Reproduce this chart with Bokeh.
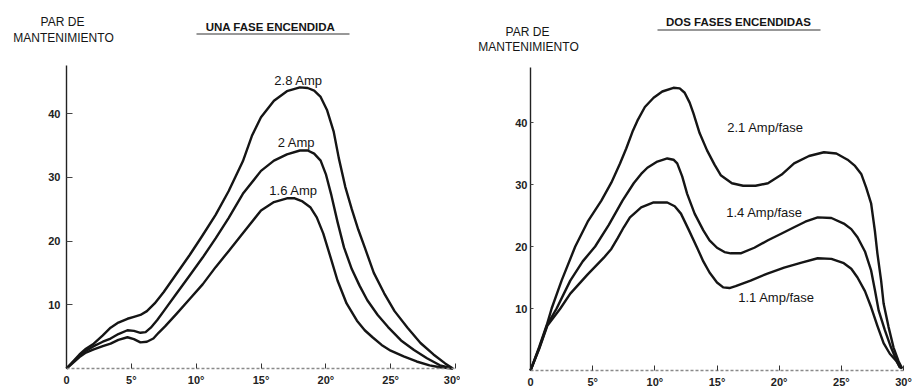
from bokeh.plotting import figure
from bokeh.models import Label, FixedTicker
from bokeh.layouts import row
from bokeh.embed import file_html
from bokeh.resources import INLINE

# ---------------- data ----------------
x_ticks = [0, 5, 10, 15, 20, 25, 30]
x_tick_labels = ["0", "5°", "10°", "15°", "20°", "25°", "30°"]
y_ticks = [10, 20, 30, 40]

# Left chart: UNA FASE ENCENDIDA (x = degrees, y = holding torque)
a28_x = [0, 0.5, 1.0, 1.5, 2.1, 2.8, 3.4, 4.0, 4.7, 5.2, 5.7, 6.2, 6.8, 7.5, 8.5, 9.5, 10.5, 11.5, 12.5, 13.6, 14.3, 15.0, 16.0, 17.0, 18.0, 18.6, 19.1, 19.6, 20.1, 20.6, 21.0, 21.5, 22.0, 22.5, 23.0, 23.7, 24.5, 25.3, 26.3, 27.3, 28.3, 29.2, 29.8]
a28_y = [0, 1.1, 2.2, 3.1, 3.9, 5.2, 6.4, 7.2, 7.8, 8.1, 8.4, 9.0, 10.2, 12.0, 14.9, 17.8, 20.9, 24.1, 27.8, 32.5, 36.5, 39.4, 42.0, 43.5, 44.1, 44.0, 43.6, 42.6, 40.5, 37.2, 33.0, 28.5, 25.0, 21.8, 19.0, 15.0, 11.8, 9.0, 6.4, 4.0, 2.2, 0.8, 0]
a20_x = [0, 0.5, 1.0, 1.5, 2.1, 2.8, 3.4, 4.0, 4.7, 5.2, 5.7, 6.1, 6.5, 7.0, 7.5, 8.5, 9.5, 10.5, 11.5, 12.5, 13.6, 15.0, 16.0, 17.0, 18.0, 18.6, 19.1, 19.6, 20.0, 20.4, 20.9, 21.4, 22.0, 22.6, 23.2, 24.0, 24.8, 25.8, 26.8, 27.8, 28.8, 29.8]
a20_y = [0, 1.0, 2.0, 2.8, 3.5, 4.2, 4.7, 5.4, 6.0, 5.9, 5.6, 5.7, 6.4, 7.6, 9.0, 11.8, 14.6, 17.4, 20.4, 23.6, 27.4, 31.0, 32.6, 33.6, 34.2, 34.2, 33.7, 32.6, 30.5, 27.4, 23.0, 19.0, 15.6, 13.0, 10.7, 8.4, 6.5, 4.4, 2.9, 1.6, 0.5, 0]
a16_x = [0, 0.5, 1.0, 1.5, 2.1, 2.8, 3.4, 4.0, 4.7, 5.2, 5.7, 6.2, 6.7, 7.1, 7.6, 8.5, 9.5, 10.5, 11.5, 12.5, 13.6, 15.0, 16.0, 17.0, 17.6, 18.2, 18.8, 19.3, 19.8, 20.4, 20.9, 21.6, 22.4, 23.0, 23.6, 24.3, 25.0, 26.0, 27.0, 28.0, 28.8, 29.8]
a16_y = [0, 0.9, 1.8, 2.5, 3.0, 3.5, 3.9, 4.5, 4.9, 4.6, 4.1, 4.2, 4.7, 5.6, 6.6, 8.6, 10.9, 13.2, 15.9, 18.4, 21.2, 24.8, 26.1, 26.7, 26.7, 26.2, 25.3, 23.7, 21.2, 17.2, 13.8, 10.2, 7.5, 6.0, 4.9, 3.7, 2.8, 1.9, 1.1, 0.5, 0.2, 0]

# Right chart: DOS FASES ENCENDIDAS
b21_x = [0, 0.7, 1.35, 1.7, 2.5, 3.6, 4.6, 5.7, 6.5, 7.2, 7.7, 8.2, 8.6, 9.2, 9.9, 10.6, 11.5, 12.0, 12.4, 12.8, 13.1, 13.6, 14.2, 14.8, 15.3, 16.2, 17.1, 18.1, 19.1, 20.2, 21.2, 22.4, 23.6, 24.6, 25.5, 26.1, 26.6, 27.0, 27.4, 27.7, 27.9, 28.2, 28.4, 28.8, 29.2, 29.6, 29.9]
b21_y = [0, 3.8, 7.6, 10.0, 14.5, 20.0, 24.0, 27.4, 30.3, 33.4, 35.8, 38.5, 40.3, 42.5, 44.0, 45.0, 45.6, 45.5, 44.8, 43.2, 41.5, 38.3, 35.5, 33.2, 31.5, 30.2, 29.8, 29.8, 30.2, 31.6, 33.4, 34.6, 35.2, 35.0, 34.0, 33.0, 31.7, 29.5, 26.9, 22.5, 18.9, 14.5, 10.8, 7.0, 3.7, 1.5, 0.3]
b14_x = [0, 0.7, 1.35, 2.1, 3.2, 4.2, 5.2, 6.3, 7.4, 8.3, 8.9, 9.4, 10.2, 11.0, 11.5, 11.8, 12.2, 12.6, 13.2, 13.9, 14.4, 15.0, 15.6, 16.1, 16.9, 18.0, 19.1, 20.2, 21.2, 22.1, 23.1, 24.2, 25.2, 25.8, 26.3, 26.9, 27.4, 27.7, 28.0, 28.5, 29.0, 29.4, 29.7]
b14_y = [0, 3.6, 7.4, 10.0, 14.5, 17.6, 20.0, 23.5, 27.4, 30.2, 31.7, 32.7, 33.7, 34.2, 34.0, 33.4, 31.3, 28.5, 25.3, 22.6, 21.0, 19.8, 19.1, 18.9, 18.9, 19.8, 21.0, 22.1, 23.1, 24.0, 24.7, 24.6, 23.7, 22.8, 21.5, 19.2, 16.1, 13.0, 9.7, 6.5, 3.7, 1.8, 0.5]
b11_x = [0, 0.7, 1.35, 2.4, 3.2, 4.6, 5.9, 6.5, 7.0, 7.5, 8.0, 8.5, 8.9, 9.9, 11.0, 11.6, 12.1, 12.7, 13.4, 13.9, 14.4, 15.0, 15.5, 16.0, 16.5, 17.7, 19.0, 20.4, 21.8, 23.1, 24.2, 25.2, 25.8, 26.3, 26.9, 27.4, 27.9, 28.4, 28.9, 29.4, 29.8]
b11_y = [0, 3.5, 7.2, 10.0, 12.4, 15.5, 18.2, 19.6, 21.3, 23.1, 24.7, 25.6, 26.3, 27.1, 27.1, 26.5, 25.3, 22.8, 19.8, 17.6, 15.8, 14.2, 13.4, 13.3, 13.6, 14.5, 15.6, 16.6, 17.4, 18.1, 18.0, 17.3, 16.4, 15.0, 12.8, 10.2, 7.2, 4.4, 2.7, 1.6, 0.3]

left_labels = ["2.8 Amp", "2 Amp", "1.6 Amp"]
right_labels = ["2.1 Amp/fase", "1.4 Amp/fase", "1.1 Amp/fase"]

FONT = "Liberation Sans"
INK = "#151515"
W, H = 460, 389


def make_fig(x0_px, x30_px, y0_px, y40_px, y_top, tick_in_y, label_standoff_y):
    # frame fills the whole figure; axes are pinned at data 0 (fixed_location)
    ppx = (x30_px - x0_px) / 30.0
    ppy = (y0_px - y40_px) / 40.0
    xr = (-x0_px / ppx, (W - x0_px) / ppx)
    yr = (-(H - y0_px) / ppy, y0_px / ppy)
    p = figure(width=W, height=H, x_range=xr, y_range=yr,
               output_backend="svg", toolbar_location=None,
               min_border_left=0, min_border_right=0,
               min_border_top=0, min_border_bottom=0)
    p.outline_line_color = None
    p.grid.visible = False
    p.background_fill_color = "white"
    p.border_fill_color = "white"
    p.xaxis.fixed_location = 0
    p.yaxis.fixed_location = 0
    p.xaxis.bounds = (0, 30)
    p.yaxis.bounds = (0, y_top)
    p.xaxis.ticker = FixedTicker(ticks=x_ticks)
    p.xaxis.major_label_overrides = {t: s for t, s in zip(x_ticks, x_tick_labels)}
    p.yaxis.ticker = FixedTicker(ticks=y_ticks)
    p.xaxis.minor_tick_line_color = None
    p.yaxis.minor_tick_line_color = None
    p.xaxis.axis_line_color = "#8a8a8a"
    p.xaxis.axis_line_dash = "3 2"
    p.xaxis.axis_line_width = 1.3
    p.xaxis.major_tick_in = 5
    p.xaxis.major_tick_out = 0
    p.xaxis.major_tick_line_color = "#333333"
    p.xaxis.major_label_standoff = 5
    p.yaxis.axis_line_color = "#222222"
    p.yaxis.axis_line_width = 1.4
    p.yaxis.major_tick_in = tick_in_y
    p.yaxis.major_tick_out = 0
    p.yaxis.major_tick_line_color = "#444444"
    p.yaxis.major_label_standoff = label_standoff_y
    for ax in (p.xaxis, p.yaxis):
        ax.major_label_text_font = FONT
        ax.major_label_text_font_size = "11px"
        ax.major_label_text_font_style = "bold"
        ax.major_label_text_color = "#222222"
    return p, ppx, ppy


def add_label(p, x, y, text, size, style="normal"):
    p.add_layout(Label(x=x, y=y, text=text, text_font=FONT,
                       text_font_size=size, text_font_style=style,
                       text_align="center", text_baseline="middle",
                       text_color=INK))


# ---------------- left chart ----------------
L0X, L0Y = 66, 368
pl, lppx, lppy = make_fig(L0X, 455, L0Y, 113, 47.5, 6, 6)
for xs, ys in ((a28_x, a28_y), (a20_x, a20_y), (a16_x, a16_y)):
    pl.line(xs, ys, line_color=INK, line_width=2.4, line_join="round")

LX = lambda px: (px - L0X) / lppx
LY = lambda py: (L0Y - py) / lppy
add_label(pl, LX(298), LY(80), left_labels[0], "13px")
add_label(pl, LX(296), LY(142), left_labels[1], "13px")
add_label(pl, LX(293), LY(190), left_labels[2], "13px")
add_label(pl, LX(62), LY(21), "PAR DE", "12px")
add_label(pl, LX(63), LY(37), "MANTENIMIENTO", "12px")
add_label(pl, LX(270), LY(26), "UNA FASE ENCENDIDA", "11.5px", "bold")
pl.segment(x0=[LX(196)], y0=[LY(33.5)], x1=[LX(349)], y1=[LY(33.5)],
           line_color="#333333", line_width=1.2)

# ---------------- right chart ----------------
R0X, R0Y = 70, 370   # in the right figure's own pixels (page x - 460)
pr, rppx, rppy = make_fig(R0X, 443, R0Y, 122, 48.9, 3, 3)
for xs, ys in ((b21_x, b21_y), (b14_x, b14_y), (b11_x, b11_y)):
    pr.line(xs, ys, line_color=INK, line_width=2.4, line_join="round")

RX = lambda px: (px - 460 - R0X) / rppx
RY = lambda py: (R0Y - py) / rppy
add_label(pr, RX(765), RY(127), right_labels[0], "13px")
add_label(pr, RX(764), RY(212), right_labels[1], "13px")
add_label(pr, RX(776), RY(297), right_labels[2], "13px")
add_label(pr, RX(527), RY(31), "PAR DE", "12px")
add_label(pr, RX(528), RY(46), "MANTENIMIENTO", "12px")
add_label(pr, RX(738), RY(21), "DOS FASES ENCENDIDAS", "11.5px", "bold")
pr.segment(x0=[RX(657)], y0=[RY(29.5)], x1=[RX(820)], y1=[RY(29.5)],
           line_color="#333333", line_width=1.2)

layout = row(pl, pr)
open("out.html", "w").write(file_html(layout, INLINE))
